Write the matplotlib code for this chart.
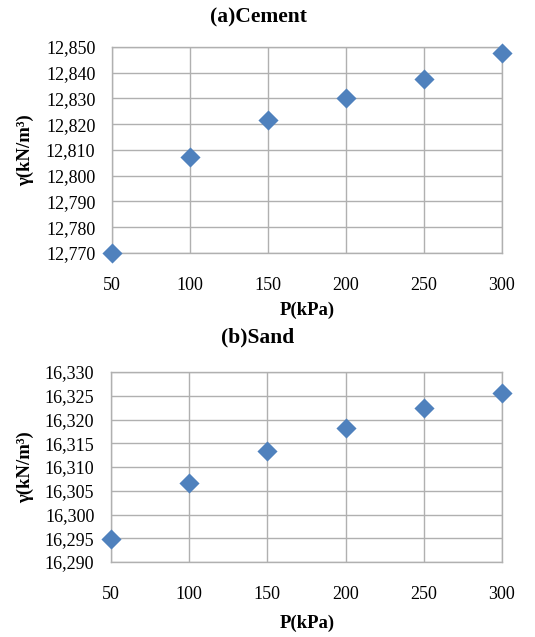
import matplotlib
matplotlib.use("Agg")
import matplotlib.pyplot as plt
from matplotlib.ticker import FuncFormatter, MultipleLocator

plt.rcParams['font.family'] = ['Liberation Serif', 'DejaVu Serif']

pressure = [50, 100, 150, 200, 250, 300]
cement_gamma = [12770.0, 12807.4, 12821.7, 12830.3, 12837.4, 12847.8]
sand_gamma = [16294.9, 16306.7, 16313.4, 16318.2, 16322.4, 16325.6]
x_ticks = [50, 100, 150, 200, 250, 300]
titles = ["(a)Cement", "(b)Sand"]
xlabel = "P(kPa)"
ylabel = "γ(kN/m³)"

fig = plt.figure(figsize=(5.35, 6.37), dpi=100)

W, H = 535, 637
def rect(l, t, r, b):
    return [l / W, 1 - b / H, (r - l) / W, (b - t) / H]

specs = [
    dict(rect=rect(112, 47, 502, 253), y=cement_gamma, ylim=(12770, 12850), step=10,
         title_y=17, xlabel_y=310, ylabel_y=150),
    dict(rect=rect(111, 372, 502, 562), y=sand_gamma, ylim=(16290, 16330), step=5,
         title_y=337, xlabel_y=623, ylabel_y=467),
]

grid_color = '#b0b0b0'
for i, s in enumerate(specs):
    ax = fig.add_axes(s['rect'])
    ax.scatter(pressure, s['y'], marker='D', s=105, color='#4F81BD', zorder=3,
               clip_on=False, linewidths=0)
    ax.set_xlim(50, 300)
    ax.set_ylim(*s['ylim'])
    ax.set_xticks(x_ticks)
    ax.yaxis.set_major_locator(MultipleLocator(s['step']))
    ax.yaxis.set_major_formatter(FuncFormatter(lambda v, p: f"{v:,.0f}"))
    ax.grid(True, color=grid_color, linewidth=1.0)
    ax.set_axisbelow(True)
    for sp in ax.spines.values():
        sp.set_color(grid_color)
        sp.set_linewidth(1.0)
    ax.tick_params(length=0, labelsize=13)
    ax.tick_params(axis='x', pad=17)
    ax.tick_params(axis='y', pad=12)
    fig.text(258 / W, 1 - s['title_y'] / H, titles[i], ha='center', va='center',
             fontsize=15.5, fontweight='bold')
    fig.text(307 / W, 1 - s['xlabel_y'] / H, xlabel, ha='center', va='center',
             fontsize=13.5, fontweight='bold')
    fig.text(25 / W, 1 - s['ylabel_y'] / H, ylabel, ha='center', va='center',
             fontsize=13.5, fontweight='bold', rotation=90)

fig.savefig("out.png", dpi=100)
